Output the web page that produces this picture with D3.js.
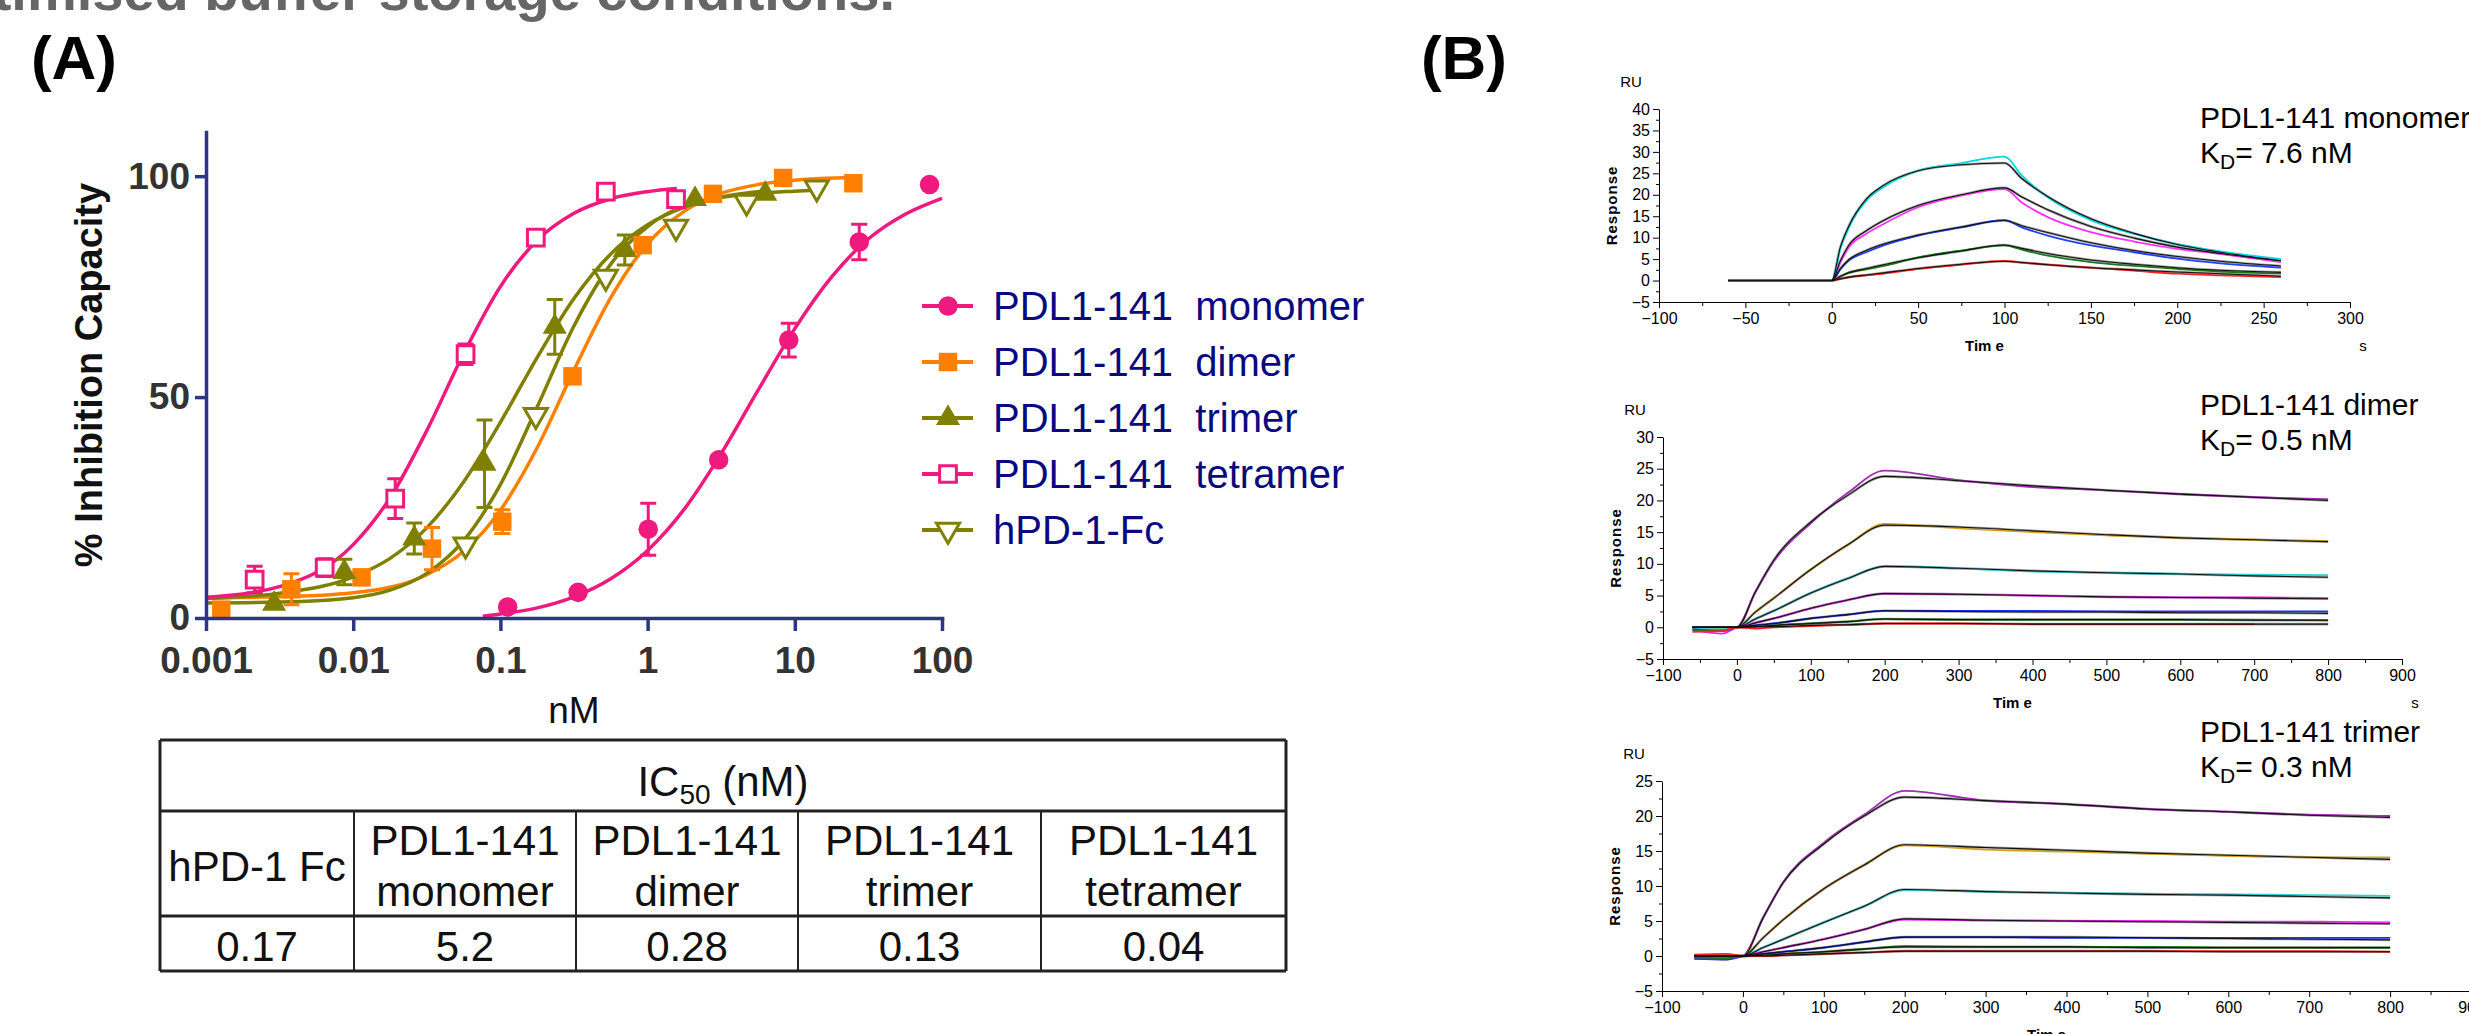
<!DOCTYPE html>
<html>
<head>
<meta charset="utf-8">
<script src="https://cdn.jsdelivr.net/npm/d3@7"></script>
<style>
  body { margin: 0; background: #fff; }
  svg { display: block; font-family: "Liberation Sans", Arial, sans-serif; }
</style>
</head>
<body>
<div id="chart"></div>
<script>
// ---------- panel A: inhibition data ----------
const xTicks = [0.001, 0.01, 0.1, 1, 10, 100];
const xTickLabels = ['0.001', '0.01', '0.1', '1', '10', '100'];
const yTicks = [0, 50, 100];

const monomerConc = [0.112, 0.337, 1.01, 3.04, 9.1, 27.4, 82.3];
const monomerInh = [2.5, 5.8, 20.1, 35.8, 62.9, 85.1, 98.1];
const monomerErr = [0, 0, 5.9, 0, 3.8, 4.0, 0];
const monomerFitX = [0.076, 0.1, 0.178, 0.316, 0.562, 1, 1.78, 3.16, 5.62, 10, 17.8, 31.6, 56.2, 100];
const monomerFitY = [0.4, 0.9, 2.3, 4.8, 8.9, 15.3, 24.7, 37.2, 51.5, 65.5, 77.2, 85.8, 91.4, 95.0];

const dimerConc = [0.00127, 0.0038, 0.0114, 0.0343, 0.103, 0.309, 0.926, 2.78, 8.33, 25.0];
const dimerInh = [1.9, 6.5, 9.2, 15.7, 21.8, 54.7, 84.4, 96.0, 99.6, 98.4];
const dimerErr = [0, 3.5, 0, 4.8, 2.7, 0, 0, 0, 0, 0];
const dimerFitX = [0.001, 0.00316, 0.01, 0.0316, 0.0562, 0.1, 0.178, 0.316, 0.562, 1, 1.78, 3.16, 5.62, 10, 25];
const dimerFitY = [4.6, 4.8, 5.7, 9.8, 15.1, 24.4, 38.6, 56.1, 72.5, 84.7, 92.1, 96.1, 98.1, 99.1, 99.7];

const trimerConc = [0.0029, 0.0087, 0.026, 0.078, 0.234, 0.70, 2.1, 6.3];
const trimerInh = [3.2, 10.4, 18.0, 34.9, 65.9, 83.3, 94.8, 96.0];
const trimerErr = [0, 2.9, 3.5, 9.9, 6.2, 3.4, 0, 0];
const trimerFitX = [0.001, 0.00316, 0.01, 0.0178, 0.0316, 0.0562, 0.1, 0.178, 0.316, 0.562, 1, 1.78, 3.16, 6.3];
const trimerFitY = [4.4, 5.6, 9.3, 13.5, 20.4, 30.8, 44.3, 59.0, 72.3, 82.4, 89.0, 93.0, 95.3, 96.7];

const tetramerConc = [0.00214, 0.0064, 0.0193, 0.058, 0.174, 0.52, 1.56];
const tetramerInh = [8.7, 11.4, 27.0, 59.7, 86.1, 96.5, 94.8];
const tetramerErr = [3.0, 2.0, 4.5, 2.3, 0, 0, 0];
const tetramerFitX = [0.001, 0.00316, 0.01, 0.0178, 0.0316, 0.0562, 0.1, 0.178, 0.316, 0.562, 1, 1.58];
const tetramerFitY = [4.7, 7.1, 16.6, 27.2, 42.4, 59.8, 75.0, 85.5, 91.6, 94.9, 96.5, 97.2];

const hpdConc = [0.058, 0.174, 0.52, 1.56, 4.7, 14.1];
const hpdInh = [16.6, 45.9, 77.2, 88.5, 94.2, 97.4];
const hpdErr = [0, 0, 0, 0, 0, 0];
const hpdFitX = [0.001, 0.00316, 0.01, 0.0178, 0.0316, 0.0562, 0.1, 0.178, 0.316, 0.562, 1, 3.16, 10, 14.1];
const hpdFitY = [3.4, 3.6, 4.6, 6.3, 10.1, 17.5, 30.2, 47.8, 66.1, 80.1, 88.6, 95.2, 96.6, 96.8];

// ---------- IC50 table ----------
const tableTitle = 'IC';
const tableTitleSub = '50';
const tableTitleTail = ' (nM)';
const tableHeads = [['hPD-1 Fc'], ['PDL1-141', 'monomer'], ['PDL1-141', 'dimer'], ['PDL1-141', 'trimer'], ['PDL1-141', 'tetramer']];
const tableValues = ['0.17', '5.2', '0.28', '0.13', '0.04'];

// ---------- panel B: sensorgrams ----------
const monoTimes = [-60, 0, 5, 10, 20, 30, 50, 75, 100, 110, 125, 150, 175, 200, 225, 260];
const monoMeasured = [
    [0, 0, 7.5, 12.4, 18.6, 21.8, 25.6, 27.4, 28.9, 24.5, 19.4, 14.1, 10.9, 8.5, 6.8, 5.0],
    [0, 0, 4.2, 7.8, 10.9, 13.2, 17.1, 19.8, 21.3, 18.2, 14.8, 11.3, 9.1, 7.4, 6.2, 4.3],
    [0, 0, 2.6, 4.7, 6.6, 8.2, 10.5, 12.4, 14.1, 12.4, 10.5, 8.2, 6.6, 5.1, 4.0, 3.0],
    [0, 0, 0.9, 1.9, 2.6, 3.4, 5.4, 7.0, 8.2, 7.2, 5.8, 4.3, 3.4, 2.7, 2.1, 1.6],
    [0, 0, 0.4, 0.8, 1.2, 1.6, 2.7, 3.7, 4.6, 4.2, 3.7, 3.0, 2.3, 1.6, 1.2, 0.8]
];
const monoFit = [
    [0, 0, 7.8, 12.8, 19.0, 22.2, 25.6, 27.0, 27.4, 23.8, 19.6, 14.4, 11.0, 8.4, 6.6, 4.6],
    [0, 0, 4.6, 8.3, 11.6, 14.0, 17.5, 20.0, 21.6, 19.5, 16.5, 12.6, 9.9, 7.8, 6.3, 4.6],
    [0, 0, 2.8, 4.9, 7.0, 8.5, 10.6, 12.5, 14.0, 12.8, 11.2, 8.8, 7.0, 5.6, 4.5, 3.4],
    [0, 0, 1.0, 1.8, 2.8, 3.7, 5.3, 6.9, 8.3, 7.5, 6.3, 4.8, 3.8, 3.0, 2.4, 1.9],
    [0, 0, 0.4, 0.8, 1.3, 1.8, 2.8, 3.8, 4.5, 4.2, 3.7, 3.0, 2.5, 2.0, 1.6, 1.0]
];
const monoColors = ['#00d8e0', '#ff30ff', '#2040ff', '#1a7a1a', '#ff2020'];

const longTimes = [-60, -20, 0, 25, 50, 100, 150, 200, 300, 400, 500, 600, 700, 800];
const dimerMeasured = [
    [-0.3, -0.4, 0, 5.5, 10.4, 16.4, 21.2, 24.7, 23.2, 22.1, 21.6, 21.0, 20.5, 20.2],
    [-0.2, -0.3, 0, 2.4, 4.6, 9.1, 13.0, 16.3, 15.6, 15.0, 14.5, 14.1, 13.8, 13.6],
    [-0.2, -0.3, 0, 1.3, 2.6, 5.4, 7.7, 9.6, 9.3, 8.8, 8.6, 8.4, 8.3, 8.2],
    [-0.4, -1.0, 0, 0.7, 1.4, 3.0, 4.3, 5.3, 5.2, 5.0, 4.8, 4.7, 4.7, 4.6],
    [-0.3, -0.6, 0, 0.3, 0.6, 1.4, 2.0, 2.6, 2.6, 2.6, 2.5, 2.5, 2.5, 2.5],
    [-0.5, -0.5, 0, 0.1, 0.3, 0.6, 0.9, 1.3, 1.2, 1.2, 1.2, 1.2, 1.2, 1.1],
    [-0.7, -0.6, 0, -0.2, 0, 0.2, 0.4, 0.6, 0.6, 0.5, 0.5, 0.5, 0.5, null]
];
const dimerFit = [
    [0, 0, 0, 5.6, 10.6, 16.6, 20.8, 23.8, 23.1, 22.3, 21.6, 21.0, 20.5, 20.0],
    [0, 0, 0, 2.4, 4.6, 9.1, 13.0, 16.1, 15.8, 15.2, 14.6, 14.1, 13.8, 13.5],
    [0, 0, 0, 1.3, 2.6, 5.4, 7.7, 9.6, 9.3, 8.9, 8.6, 8.4, 8.1, 7.9],
    [0, 0, 0, 0.7, 1.4, 3.0, 4.3, 5.3, 5.2, 5.0, 4.8, 4.7, 4.6, 4.5],
    [0, 0, 0, 0.3, 0.6, 1.4, 2.0, 2.6, 2.5, 2.4, 2.4, 2.3, 2.3, 2.2],
    [0, 0, 0, 0.1, 0.3, 0.6, 0.9, 1.3, 1.2, 1.2, 1.2, 1.2, 1.1, 1.1],
    [0, 0, 0, 0.1, 0.1, 0.3, 0.4, 0.6, 0.6, 0.5, 0.5, 0.5, 0.5, 0.5]
];
const trimerMeasured = [
    [-0.3, -0.4, 0, 5.4, 10.6, 16.2, 20.2, 23.6, 22.2, 21.7, 21.0, 20.6, 20.2, 20.0],
    [-0.2, -0.5, 0, 2.6, 5.2, 9.6, 13.0, 15.8, 15.2, 14.9, 14.6, 14.3, 14.1, 14.1],
    [-0.4, -0.4, 0, 1.2, 2.4, 4.8, 7.1, 9.4, 9.2, 9.0, 8.9, 8.8, 8.7, 8.6],
    [-0.3, -0.4, 0, 0.6, 1.2, 2.4, 3.8, 5.2, 5.1, 5.0, 5.0, 4.9, 4.9, 4.8],
    [-0.4, -0.5, 0, 0.3, 0.6, 1.2, 2.0, 2.7, 2.7, 2.6, 2.6, 2.6, 2.6, 2.6],
    [-0.2, -0.3, 0, 0.1, 0.3, 0.6, 1.0, 1.4, 1.3, 1.3, 1.3, 1.2, 1.2, 1.2],
    [0.2, 0.3, 0, 0, 0.1, 0.3, 0.5, 0.7, 0.7, 0.7, 0.7, 0.7, 0.7, 0.6]
];
const trimerFit = [
    [0, 0, 0, 5.5, 10.5, 16.0, 20.0, 22.7, 22.2, 21.7, 21.0, 20.6, 20.1, 19.8],
    [0, 0, 0, 2.6, 5.2, 9.6, 13.0, 15.9, 15.5, 15.1, 14.7, 14.4, 14.1, 13.8],
    [0, 0, 0, 1.2, 2.4, 4.8, 7.1, 9.5, 9.2, 9.0, 8.8, 8.7, 8.5, 8.3],
    [0, 0, 0, 0.6, 1.2, 2.4, 3.8, 5.3, 5.1, 5.0, 4.9, 4.8, 4.7, 4.6],
    [0, 0, 0, 0.3, 0.6, 1.2, 2.0, 2.7, 2.7, 2.7, 2.6, 2.5, 2.4, 2.3],
    [0, 0, 0, 0.1, 0.3, 0.6, 1.0, 1.3, 1.3, 1.3, 1.2, 1.2, 1.2, 1.2],
    [0, 0, 0, 0, 0.1, 0.3, 0.5, 0.7, 0.7, 0.7, 0.7, 0.6, 0.6, 0.6]
];
const longColors = ['#a030b0', '#d4a020', '#30d0d0', '#ff20ff', '#2030ff', '#1a7a1a', '#ff2020'];

// ---------- setup ----------
const W = 2469, H = 1034;
const pink = '#f0197d', orange = '#ff8000', olive = '#808000', navy = '#2e3585';

const svg = d3.select('#chart')
    .append('svg')
    .attr('width', W)
    .attr('height', H)
    .attr('viewBox', `0 0 ${W} ${H}`);

svg.append('rect').attr('width', W).attr('height', H).attr('fill', '#fff');

// cut-off caption above the panels
svg.append('text')
    .attr('x', 895).attr('y', 10)
    .attr('text-anchor', 'end')
    .attr('font-size', 56).attr('font-weight', 700)
    .attr('fill', '#666')
    .text('Optimised buffer storage conditions.');

svg.append('text').attr('x', 74).attr('y', 79).attr('text-anchor', 'middle')
    .attr('font-size', 62).attr('font-weight', 700).text('(A)');
svg.append('text').attr('x', 1464).attr('y', 79).attr('text-anchor', 'middle')
    .attr('font-size', 62).attr('font-weight', 700).text('(B)');

// ---------- panel A ----------
const xA = d3.scaleLog().domain([0.001, 100]).range([206, 942]);
const yA = d3.scaleLinear().domain([0, 110]).range([618, 132]);

const series = [
    { name: 'PDL1-141  monomer', color: pink, symbol: d3.symbolCircle, size: 300, open: false,
      conc: monomerConc, inh: monomerInh, err: monomerErr, fx: monomerFitX, fy: monomerFitY },
    { name: 'PDL1-141  dimer', color: orange, symbol: d3.symbolSquare, size: 340, open: false,
      conc: dimerConc, inh: dimerInh, err: dimerErr, fx: dimerFitX, fy: dimerFitY },
    { name: 'PDL1-141  trimer', color: olive, symbol: d3.symbolTriangle, size: 250, open: false,
      conc: trimerConc, inh: trimerInh, err: trimerErr, fx: trimerFitX, fy: trimerFitY },
    { name: 'PDL1-141  tetramer', color: pink, symbol: d3.symbolSquare, size: 280, open: true,
      conc: tetramerConc, inh: tetramerInh, err: tetramerErr, fx: tetramerFitX, fy: tetramerFitY },
    { name: 'hPD-1-Fc', color: olive, symbol: d3.symbolTriangle, size: 230, open: true, flip: true,
      conc: hpdConc, inh: hpdInh, err: hpdErr, fx: hpdFitX, fy: hpdFitY }
];

const fitLine = d3.line()
    .x(d => xA(d[0]))
    .y(d => yA(d[1]))
    .curve(d3.curveMonotoneX);

const curves = svg.append('g').attr('class', 'fits');
series.forEach(s => {
    curves.append('path')
        .datum(d3.zip(s.fx, s.fy))
        .attr('d', fitLine)
        .attr('fill', 'none')
        .attr('stroke', s.color)
        .attr('stroke-width', 3.5);
});

function drawMarker(g, s, cx, cy) {
    g.append('path')
        .attr('d', d3.symbol().type(s.symbol).size(s.size)())
        .attr('transform', `translate(${cx},${cy})${s.flip ? ' rotate(180)' : ''}`)
        .attr('fill', s.open ? '#fff' : s.color)
        .attr('stroke', s.open ? s.color : 'none')
        .attr('stroke-width', 3);
}

const pts = svg.append('g').attr('class', 'points');
series.forEach(s => {
    s.conc.forEach((c, i) => {
        const cx = xA(c), cy = yA(s.inh[i]), e = s.err[i];
        if (e > 0) {
            const y0 = yA(s.inh[i] - e), y1 = yA(s.inh[i] + e);
            pts.append('path')
                .attr('d', `M${cx},${y0}V${y1}M${cx - 8},${y0}H${cx + 8}M${cx - 8},${y1}H${cx + 8}`)
                .attr('stroke', s.color).attr('stroke-width', 3).attr('fill', 'none');
        }
        drawMarker(pts, s, cx, cy);
    });
});

const gxA = svg.append('g')
    .attr('transform', `translate(0,${yA(0)})`)
    .call(d3.axisBottom(xA).tickValues(xTicks).tickFormat((d, i) => xTickLabels[i])
        .tickSize(13).tickPadding(16).tickSizeOuter(0));
const gyA = svg.append('g')
    .attr('transform', `translate(${xA(0.001)},0)`)
    .call(d3.axisLeft(yA).tickValues(yTicks).tickSize(11).tickPadding(5).tickSizeOuter(0));

[gxA, gyA].forEach(g => {
    g.attr('font-family', null).attr('font-size', null);
    g.select('.domain').attr('stroke', navy).attr('stroke-width', 3.5).attr('stroke-linecap', 'square');
    g.selectAll('.tick line').attr('stroke', navy).attr('stroke-width', 3.5);
    g.selectAll('.tick text').attr('font-size', 37).attr('font-weight', 700).attr('fill', '#333');
});

svg.append('text')
    .attr('transform', `translate(89,${(yA(0) + yA(110)) / 2}) rotate(-90)`)
    .attr('text-anchor', 'middle').attr('dominant-baseline', 'central')
    .attr('font-size', 38).attr('font-weight', 700).attr('fill', '#111')
    .text('% Inhibition Capacity');

svg.append('text')
    .attr('x', (xA(0.001) + xA(100)) / 2).attr('y', 723)
    .attr('text-anchor', 'middle').attr('font-size', 37).attr('fill', '#111')
    .text('nM');

// legend
const legend = svg.append('g').attr('class', 'legend');
series.forEach((s, i) => {
    const ly = 306 + i * 56;
    legend.append('line')
        .attr('x1', 922).attr('x2', 973).attr('y1', ly).attr('y2', ly)
        .attr('stroke', s.color).attr('stroke-width', 4);
    drawMarker(legend, s, 948, ly);
    legend.append('text')
        .attr('x', 993).attr('y', ly + 14)
        .attr('font-size', 40).attr('fill', '#0a0a80')
        .attr('xml:space', 'preserve')
        .text(s.name);
});

// ---------- IC50 table ----------
const colEdges = [160, 354, 576, 798, 1041, 1286];
const rowEdges = [740, 811, 916, 971];
const table = svg.append('g').attr('class', 'ic50');

rowEdges.forEach(y => {
    table.append('line').attr('x1', colEdges[0]).attr('x2', colEdges[5])
        .attr('y1', y).attr('y2', y).attr('stroke', '#222').attr('stroke-width', 3);
});
[colEdges[0], colEdges[5]].forEach(x => {
    table.append('line').attr('x1', x).attr('x2', x)
        .attr('y1', rowEdges[0]).attr('y2', rowEdges[3]).attr('stroke', '#222').attr('stroke-width', 3);
});
colEdges.slice(1, 5).forEach(x => {
    table.append('line').attr('x1', x).attr('x2', x)
        .attr('y1', rowEdges[1]).attr('y2', rowEdges[3]).attr('stroke', '#222').attr('stroke-width', 2);
});

const titleText = table.append('text')
    .attr('x', (colEdges[0] + colEdges[5]) / 2).attr('y', 796)
    .attr('text-anchor', 'middle').attr('font-size', 42).attr('fill', '#111');
titleText.append('tspan').text(tableTitle);
titleText.append('tspan').attr('font-size', 28).attr('dy', 8).text(tableTitleSub);
titleText.append('tspan').attr('dy', -8).attr('xml:space', 'preserve').text(tableTitleTail);

tableHeads.forEach((lines, i) => {
    const cx = (colEdges[i] + colEdges[i + 1]) / 2;
    const t = table.append('text').attr('text-anchor', 'middle')
        .attr('font-size', 42).attr('fill', '#111');
    if (lines.length === 1) {
        t.attr('x', cx).attr('y', 881).text(lines[0]);
    } else {
        t.append('tspan').attr('x', cx).attr('y', 855).text(lines[0]);
        t.append('tspan').attr('x', cx).attr('y', 906).text(lines[1]);
    }
    table.append('text').attr('x', cx).attr('y', 961)
        .attr('text-anchor', 'middle').attr('font-size', 42).attr('fill', '#111')
        .text(tableValues[i]);
});

// ---------- panel B ----------
function sensorgram(cfg) {
    const x = d3.scaleLinear().domain(cfg.xDomain).range(cfg.xRange);
    const y = d3.scaleLinear().domain(cfg.yDomain).range(cfg.yRange);
    const g = svg.append('g');

    const line = d3.line()
        .defined(d => d[1] != null)
        .x(d => x(d[0]))
        .y(d => y(d[1]))
        .curve(d3.curveMonotoneX);

    cfg.fit.forEach(vals => {
        g.append('path').datum(d3.zip(cfg.times, vals)).attr('d', line)
            .attr('fill', 'none').attr('stroke', '#a0a0a0').attr('stroke-width', 2.6);
    });
    cfg.measured.forEach((vals, i) => {
        g.append('path').datum(d3.zip(cfg.times, vals)).attr('d', line)
            .attr('fill', 'none').attr('stroke', cfg.colors[i]).attr('stroke-width', 1.8);
    });
    cfg.fit.forEach(vals => {
        g.append('path').datum(d3.zip(cfg.times, vals)).attr('d', line)
            .attr('fill', 'none').attr('stroke', '#111').attr('stroke-width', 1.1);
    });

    const [x0, x1] = cfg.xDomain, [y0, y1] = cfg.yDomain;
    const xMajor = d3.range(x0, x1 + 1, cfg.xStep);
    const xMinor = d3.range(x0 + cfg.xStep / 2, x1, cfg.xStep);
    const yMajor = d3.range(y0, y1 + 1, 5);
    const yMinor = d3.range(y0 + 2.5, y1, 5);

    const gx = g.append('g').attr('transform', `translate(0,${y(y0)})`)
        .call(d3.axisBottom(x).tickValues(xMajor).tickSize(6).tickPadding(5).tickSizeOuter(0));
    const gxm = g.append('g').attr('transform', `translate(0,${y(y0)})`)
        .call(d3.axisBottom(x).tickValues(xMinor).tickSize(4).tickFormat(''));
    const gy = g.append('g').attr('transform', `translate(${x(x0)},0)`)
        .call(d3.axisLeft(y).tickValues(yMajor).tickSize(6).tickPadding(3).tickSizeOuter(0));
    const gym = g.append('g').attr('transform', `translate(${x(x0)},0)`)
        .call(d3.axisLeft(y).tickValues(yMinor).tickSize(3).tickFormat(''));
    gxm.select('.domain').remove();
    gym.select('.domain').remove();
    [gx, gxm, gy, gym].forEach(a => {
        a.attr('font-family', null).attr('font-size', null);
        a.selectAll('.tick text').attr('font-size', 16).attr('fill', '#000');
        a.selectAll('line, .domain').attr('stroke', '#000');
    });

    g.append('text').attr('x', x(x0) - 28).attr('y', y(y1) - 22)
        .attr('text-anchor', 'middle').attr('font-size', 15).text('RU');
    g.append('text')
        .attr('transform', `translate(${x(x0) - 48},${(y(y0) + y(y1)) / 2}) rotate(-90)`)
        .attr('text-anchor', 'middle').attr('dominant-baseline', 'central')
        .attr('font-size', 15).attr('font-weight', 700).attr('letter-spacing', 1)
        .text('Response');
    g.append('text').attr('x', (x(x0) + x(x1)) / 2 - 20).attr('y', y(y0) + 49)
        .attr('text-anchor', 'middle').attr('font-size', 15).attr('font-weight', 700)
        .attr('xml:space', 'preserve').text('Tim e');
    g.append('text').attr('x', x(x1) + 13).attr('y', y(y0) + 49)
        .attr('text-anchor', 'middle').attr('font-size', 15).text('s');

    g.append('text').attr('x', 2200).attr('y', cfg.titleY)
        .attr('font-size', 30).text(cfg.title);
    const kd = g.append('text').attr('x', 2200).attr('y', cfg.titleY + 35).attr('font-size', 30);
    kd.append('tspan').text('K');
    kd.append('tspan').attr('font-size', 21).attr('dy', 6).text('D');
    kd.append('tspan').attr('dy', -6).text(cfg.kd);
}

sensorgram({
    xDomain: [-100, 300], xRange: [1659, 2350], xStep: 50,
    yDomain: [-5, 40], yRange: [302, 109],
    times: monoTimes, measured: monoMeasured, fit: monoFit, colors: monoColors,
    title: 'PDL1-141 monomer', kd: '= 7.6 nM', titleY: 128
});
sensorgram({
    xDomain: [-100, 900], xRange: [1663, 2402], xStep: 100,
    yDomain: [-5, 30], yRange: [659, 437],
    times: longTimes, measured: dimerMeasured, fit: dimerFit, colors: longColors,
    title: 'PDL1-141 dimer', kd: '= 0.5 nM', titleY: 415
});
sensorgram({
    xDomain: [-100, 900], xRange: [1662, 2471], xStep: 100,
    yDomain: [-5, 25], yRange: [991, 781],
    times: longTimes, measured: trimerMeasured, fit: trimerFit, colors: longColors,
    title: 'PDL1-141 trimer', kd: '= 0.3 nM', titleY: 742
});
</script>
</body>
</html>
